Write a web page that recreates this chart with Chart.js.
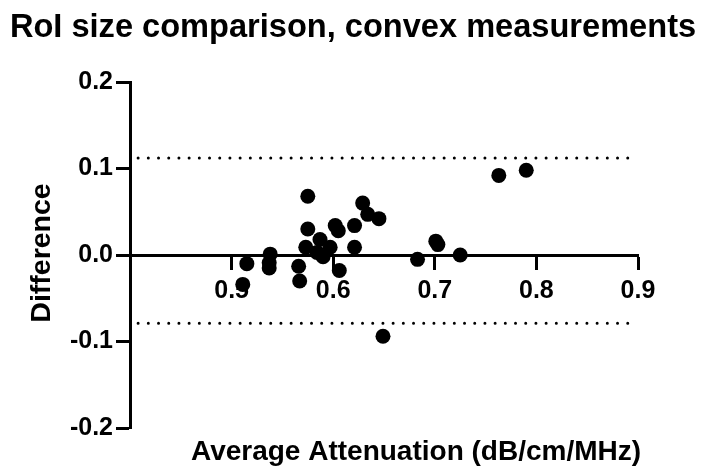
<!DOCTYPE html>
<html>
<head>
<meta charset="utf-8">
<script src="https://cdn.jsdelivr.net/npm/chart.js@4/dist/chart.umd.min.js"></script>
<style>
  html, body { margin: 0; padding: 0; background: #ffffff; }
  #wrap { width: 704px; height: 471px; }
</style>
</head>
<body>
<div id="wrap"><canvas id="c" width="704" height="471"></canvas></div>
<script>
// ---- Data ----
const avgAttenuation = [0.511, 0.515, 0.538, 0.537, 0.537, 0.566, 0.567, 0.575, 0.575, 0.573,
                        0.584, 0.587, 0.590, 0.597, 0.602, 0.605, 0.606, 0.621, 0.621, 0.629,
                        0.634, 0.645, 0.649, 0.683, 0.701, 0.703, 0.725, 0.763, 0.790];
const difference     = [-0.034, -0.010, 0.001, -0.009, -0.015, -0.013, -0.030, 0.068, 0.030, 0.009,
                        0.003, 0.018, -0.002, 0.009, 0.034, 0.028, -0.018, 0.034, 0.009, 0.060,
                        0.047, 0.042, -0.094, -0.005, 0.016, 0.012, 0.000, 0.092, 0.098];
const upperLimit = 0.112;
const lowerLimit = -0.079;
const limitSpan = [0.408, 0.891];
const xTicks = [0.5, 0.6, 0.7, 0.8, 0.9];
const yTicks = [-0.2, -0.1, 0.0, 0.1, 0.2];

const titleText = 'RoI size comparison, convex measurements';
const xTitleText = 'Average Attenuation (dB/cm/MHz)';
const yTitleText = 'Difference';

const FONT = '"Liberation Sans", Arial, Helvetica, sans-serif';

const points = avgAttenuation.map((x, i) => ({ x: x, y: difference[i] }));
const upperLine = limitSpan.map(x => ({ x: x, y: upperLimit }));
const lowerLine = limitSpan.map(x => ({ x: x, y: lowerLimit }));

const textPlugin = {
  id: 'texts',
  afterDraw(chart) {
    const ctx = chart.ctx;
    ctx.save();
    ctx.fillStyle = '#000';
    ctx.textAlign = 'center';
    ctx.textBaseline = 'middle';
    ctx.font = 'bold 32.6px ' + FONT;
    ctx.fillText(titleText, 353, 28);
    ctx.font = 'bold 28px ' + FONT;
    ctx.fillText(xTitleText, 416, 452);
    ctx.translate(42, 253);
    ctx.rotate(-Math.PI / 2);
    ctx.font = 'bold 28.5px ' + FONT;
    ctx.fillText(yTitleText, 0, 0);
    ctx.restore();
  }
};

new Chart(document.getElementById('c'), {
  type: 'scatter',
  data: {
    datasets: [
      {
        label: 'Difference',
        data: points,
        backgroundColor: '#000',
        borderWidth: 0,
        pointRadius: 7.5,
        pointHoverRadius: 7.5
      },
      {
        type: 'line',
        label: 'Upper limit',
        data: upperLine,
        showLine: true,
        borderColor: '#000',
        borderWidth: 3,
        borderDash: [0, 10.2],
        borderCapStyle: 'round',
        pointRadius: 0,
        fill: false
      },
      {
        type: 'line',
        label: 'Lower limit',
        data: lowerLine,
        showLine: true,
        borderColor: '#000',
        borderWidth: 3,
        borderDash: [0, 10.2],
        borderCapStyle: 'round',
        pointRadius: 0,
        fill: false
      }
    ]
  },
  options: {
    responsive: false,
    animation: false,
    layout: { padding: { top: 82, left: 0, right: 66, bottom: 43 } },
    plugins: { legend: { display: false }, tooltip: { enabled: false }, title: { display: false } },
    scales: {
      x: {
        type: 'linear',
        position: { y: 0 },
        min: 0.4,
        max: 0.9,
        afterBuildTicks: s => { s.ticks = [{ value: 0.4 }].concat(xTicks.map(v => ({ value: v }))); },
        ticks: {
          color: '#000',
          font: { family: FONT, size: 25, weight: 'bold' },
          padding: 8,
          maxRotation: 0,
          autoSkip: false,
          callback: v => (v < 0.45 ? '' : Number(v).toFixed(1))
        },
        grid: { drawOnChartArea: false, drawTicks: true, tickLength: 13, tickWidth: 3, tickColor: '#000' },
        border: { display: true, color: '#000', width: 3 }
      },
      y: {
        type: 'linear',
        position: 'left',
        min: -0.2,
        max: 0.2,
        afterBuildTicks: s => { s.ticks = yTicks.map(v => ({ value: v })); },
        afterFit: s => { s.width = 130; },
        ticks: {
          color: '#000',
          font: { family: FONT, size: 25, weight: 'bold' },
          padding: 3,
          autoSkip: false,
          callback: v => Number(v).toFixed(1)
        },
        grid: { drawOnChartArea: false, drawTicks: true, tickLength: 14, tickWidth: 3, tickColor: '#000' },
        border: { display: true, color: '#000', width: 3 }
      }
    }
  },
  plugins: [textPlugin]
});
</script>
</body>
</html>
